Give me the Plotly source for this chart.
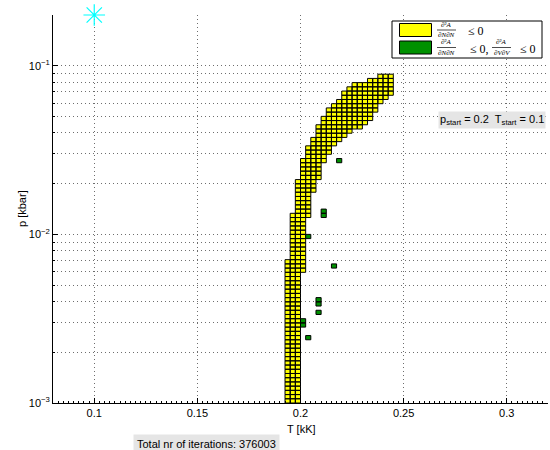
import math
import plotly.graph_objects as go

# Stable region: temperature columns [kK] with lower / upper pressure bound [kbar]
T_cols = [0.19375, 0.19625, 0.19875, 0.20125, 0.20375, 0.20625, 0.20875, 0.21125,
          0.21375, 0.21625, 0.21875, 0.22125, 0.22375, 0.22625, 0.22875, 0.23125,
          0.23375, 0.23625, 0.23875, 0.24125, 0.24375]
p_low = [0.001, 0.001, 0.001, 0.0060, 0.0126, 0.0180, 0.0213, 0.0272, 0.0299, 0.0334, 0.0358,
         0.0378, 0.0394, 0.0410, 0.0422, 0.0450, 0.0480, 0.0530, 0.0580, 0.0620, 0.0680]
p_high = [0.0069, 0.0135, 0.0207, 0.0279, 0.0330, 0.0378, 0.0451, 0.0497, 0.0555, 0.0594, 0.0636,
          0.0710, 0.0730, 0.0781, 0.0781, 0.0803, 0.0838, 0.0838, 0.0883, 0.0883, 0.0883]

# Points where both second derivatives are non-positive
T_green = [0.21875, 0.21125, 0.21125, 0.20375, 0.21625, 0.20875, 0.20875, 0.20875,
           0.20125, 0.20125, 0.20375]
p_green = [0.0279, 0.0139, 0.0132, 0.0095, 0.0065, 0.0040, 0.0038, 0.0034,
           0.0031, 0.0029, 0.0024]

# Start point
T_start = 0.1
p_start = 0.2
n_iter = 376003

x_ticks = [0.1, 0.15, 0.2, 0.25, 0.3]
y_ticks = [1e-3, 1e-2, 1e-1]
y_ticktext = ["10<sup>\u22123</sup>", "10<sup>\u22122</sup>", "10<sup>\u22121</sup>"]

dT = 0.0025          # temperature step of the grid
dlog = 0.025         # log10 pressure step of the grid
log0 = -3.0


def cell(xs, ys, T, j):
    x0, x1 = T - dT / 2, T + dT / 2
    y0, y1 = 10 ** (log0 + dlog * j), 10 ** (log0 + dlog * (j + 1))
    xs += [x0, x1, x1, x0, x0, None]
    ys += [y0, y0, y1, y1, y0, None]


yx, yy = [], []
for T, lo, hi in zip(T_cols, p_low, p_high):
    j0 = round((math.log10(lo) - log0) / dlog)
    j1 = round((math.log10(hi) - log0) / dlog)
    for j in range(j0, j1):
        cell(yx, yy, T, j)

gx, gy = [], []
for T, p in zip(T_green, p_green):
    j = math.floor((math.log10(p) - log0) / dlog)
    cell(gx, gy, T, j)

YELLOW = "#ffff00"
GREEN = "#009100"

fig = go.Figure()
fig.add_trace(go.Scatter(x=yx, y=yy, mode="lines", fill="toself", fillcolor=YELLOW,
                         line=dict(color="black", width=1), hoverinfo="skip"))
fig.add_trace(go.Scatter(x=gx, y=gy, mode="lines", fill="toself", fillcolor=GREEN,
                         line=dict(color="black", width=1), hoverinfo="skip"))
fig.add_trace(go.Scatter(x=[T_start], y=[p_start], mode="markers", cliponaxis=False,
                         marker=dict(symbol="asterisk-open", size=18, color="#00ffff",
                                     line=dict(color="#00ffff", width=1.2)),
                         hoverinfo="skip"))

GRID = "#6e6e6e"
DASH = "1px,3px"
y_minor = [m * 10 ** e for e in (-3, -2, -1) for m in range(2, 10) if m * 10 ** e <= 0.2001]

FONT = "Liberation Sans, Arial, sans-serif"
SERIF = "Liberation Serif, Times New Roman, serif"

L, R, T, B = 53, 2, 15, 47
W, H = 550, 450
PW, PH = W - L - R, H - T - B


def px(x):
    return (x - L) / PW


def py(y):
    return (H - B - y) / PH


shapes = [
    dict(type="rect", xref="paper", yref="paper", x0=px(392), x1=px(542), y0=py(58), y1=py(21),
         line=dict(color="black", width=1), fillcolor="white", layer="above"),
    dict(type="rect", xref="paper", yref="paper", x0=px(399.5), x1=px(431.5), y0=py(36.5), y1=py(23.5),
         line=dict(color="black", width=1), fillcolor=YELLOW, layer="above"),
    dict(type="rect", xref="paper", yref="paper", x0=px(399.5), x1=px(431.5), y0=py(54), y1=py(41),
         line=dict(color="black", width=1), fillcolor=GREEN, layer="above"),
    dict(type="line", xref="paper", yref="paper", x0=px(437), x1=px(456), y0=py(30), y1=py(30),
         line=dict(color="black", width=0.7), layer="above"),
    dict(type="line", xref="paper", yref="paper", x0=px(437), x1=px(456), y0=py(47.5), y1=py(47.5),
         line=dict(color="black", width=0.7), layer="above"),
    dict(type="line", xref="paper", yref="paper", x0=px(492), x1=px(511), y0=py(47.5), y1=py(47.5),
         line=dict(color="black", width=0.7), layer="above"),
]


def txt(x, y, s, size, family=FONT, **kw):
    d = dict(xref="paper", yref="paper", x=px(x), y=py(y), text=s, showarrow=False,
             xanchor="center", yanchor="middle", font=dict(family=family, size=size, color="black"))
    d.update(kw)
    return d


def frac(x, ybar, num, den):
    # numerator sits on the fraction bar, denominator hangs below it
    return [
        txt(x, ybar - 0.3, num, 7, SERIF, yanchor="bottom", borderpad=0),
        txt(x, ybar + 0.3, den, 7, SERIF, yanchor="top", borderpad=0),
    ]


d2A = "<i>\u2202</i>\u00b2<i>A</i>"
annotations = (
    frac(446.5, 30, d2A, "<i>\u2202N\u2202N</i>")
    + frac(446.5, 47.5, d2A, "<i>\u2202N\u2202N</i>")
    + frac(501.5, 47.5, d2A, "<i>\u2202V\u2202V</i>")
    + [
        txt(476, 31, "\u2264 0", 12, SERIF),
        txt(479, 48.5, "\u2264 0,", 12, SERIF),
        txt(528, 48.5, "\u2264 0", 12, SERIF),
        # start info and iteration count
        txt(491.5, 120, f"p<sub>start</sub> = {p_start}  T<sub>start</sub> = {T_start}", 11,
            bgcolor="#e5e5e5", borderpad=1),
        txt(206, 444, f"Total nr of iterations: {n_iter}", 11, bgcolor="#e5e5e5", borderpad=3),
        # axis titles
        txt(301, 428.5, "T [kK]", 11),
        txt(22, 209, "p [kbar]", 11, textangle=-90),
    ]
)

fig.update_layout(
    width=W, height=H,
    margin=dict(l=L, r=R, t=T, b=B, pad=0),
    paper_bgcolor="white", plot_bgcolor="white",
    showlegend=False,
    font=dict(family=FONT, size=11, color="black"),
    shapes=shapes, annotations=annotations,
    xaxis=dict(range=[0.08, 0.32], tickvals=x_ticks, ticktext=[str(v) for v in x_ticks],
               ticks="inside", ticklen=5, tickcolor="black", tickfont=dict(size=11),
               showline=True, linecolor="black", linewidth=1, zeroline=False,
               showgrid=True, gridcolor=GRID, griddash=DASH, gridwidth=1,
               minor=dict(dtick=0.0025, tick0=0.08, ticks="inside", ticklen=2,
                          tickcolor="black", showgrid=False)),
    yaxis=dict(type="log", range=[-3, math.log10(0.2)], tickvals=y_ticks, ticktext=y_ticktext,
               ticks="inside", ticklen=5, tickcolor="black", tickfont=dict(size=11),
               showline=True, linecolor="black", linewidth=1, zeroline=False,
               showgrid=True, gridcolor=GRID, griddash=DASH, gridwidth=1,
               minor=dict(tickmode="array", tickvals=y_minor, ticks="inside", ticklen=2,
                          tickcolor="black", showgrid=True, gridcolor=GRID,
                          griddash=DASH, gridwidth=1)),
)

fig.write_html("out.html")
